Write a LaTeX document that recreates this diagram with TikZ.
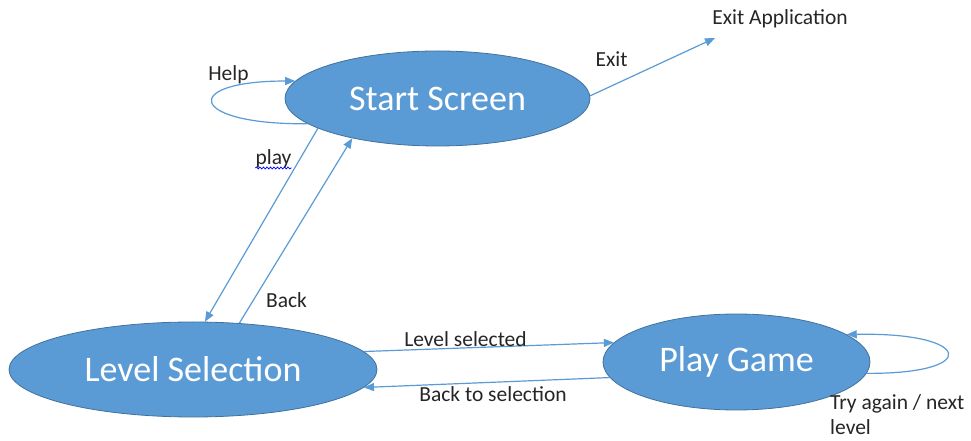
\documentclass[tikz,border=0pt]{standalone}
\usepackage{fontspec}
\setmainfont{Carlito}
\usetikzlibrary{shapes.geometric,arrows.meta,decorations.pathmorphing}
\definecolor{fillblue}{HTML}{5B9BD5}
\definecolor{edgeblue}{HTML}{41719C}
\definecolor{txt}{HTML}{262626}
\begin{document}
\begin{tikzpicture}[x=1pt,y=1pt,
  state/.style={ellipse, fill=fillblue, draw=edgeblue, line width=0.8pt, inner sep=0pt, text=white, font=\fontsize{36}{40}\selectfont},
  conn/.style={draw=fillblue, line width=1.2pt, -{Triangle[length=10pt,width=8pt]}},
  lbl/.style={inner sep=0pt, text=txt, font=\fontsize{21.5}{26}\selectfont, anchor=base}]
\useasboundingbox (0,0) rectangle (971,441);
\fill[white] (0,0) rectangle (971,441);
% states
\node[state, minimum width=305pt, minimum height=95pt] (ss) at (437.5,342.5) {Start Screen};
\node[state, minimum width=368pt, minimum height=95pt] (ls) at (193,71.5) {Level Selection};
\node[state, minimum width=267pt, minimum height=96pt] (pg) at (736.5,79) {Play Game};
% exit target
\node[lbl] (exitapp) at (780,416) {Exit Application};
\coordinate (exitpt) at (715,403);
% connectors
\draw[conn] (ss.1.5) -- (exitpt);
\draw[conn] (ss.194) -- (ls.76);
\draw[conn] (ls.45) -- (ss.205);
\draw[conn] (ls.6) -- (pg.171);
\draw[conn] (pg.187) -- (ls.354);
\draw[conn] (ss.191) .. controls (188,316) and (179,360) .. (ss.173.5);
\draw[conn] (pg.355) .. controls (982,67) and (973,109) .. (pg.14);
% labels
\node[lbl] (help) at (228.5,360) {Help};
\node[lbl] (exit) at (611.5,374) {Exit};
\node[lbl] (play) at (273.5,276) {play};
\draw[blue, line width=0.7pt, decorate, decoration={snake, amplitude=1pt, segment length=3.5pt}]
  ([yshift=-3pt]play.base west) -- ([yshift=-3pt]play.base east);
\node[lbl] (back) at (286.5,133) {Back};
\node[lbl] (levsel) at (465.5,94) {Level selected};
\node[lbl] (backsel) at (493,39) {Back to selection};
\node[lbl, anchor=base west] (try1) at (830,31) {Try again / next};
\node[lbl, anchor=base west] (try2) at (830,6) {level};
\end{tikzpicture}
\end{document}
